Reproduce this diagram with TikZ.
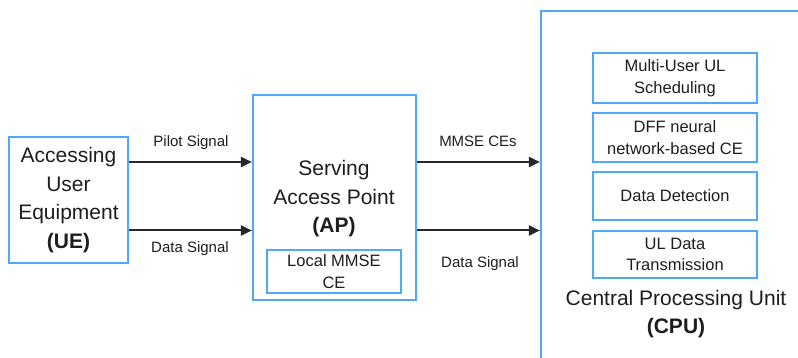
\documentclass[tikz,border=0pt]{standalone}
\usepackage{fontspec}
\setmainfont{Liberation Sans}
\usetikzlibrary{arrows.meta}
\definecolor{boxblue}{RGB}{80,168,250}
\definecolor{txt}{RGB}{30,30,30}
\tikzset{
  bigbox/.style={draw=boxblue, line width=2.2pt, fill=white, inner sep=0pt},
  subbox/.style={draw=boxblue, line width=2pt, fill=white, inner sep=0pt, align=center, text=txt, font=\fontsize{16.5}{21.5}\selectfont},
  bigtxt/.style={align=center, text=txt, font=\fontsize{21}{28.5}\selectfont},
  lbl/.style={text=txt, font=\fontsize{15}{18}\selectfont},
  arr/.style={draw=black!85, line width=2pt, -{Triangle[length=11pt,width=10pt]}}
}
\begin{document}
\begin{tikzpicture}[x=1pt,y=-1pt]
\useasboundingbox (0,0) rectangle (798,358);
\clip (0,0) rectangle (798,358);
\fill[white] (0,0) rectangle (798,358);
% UE
\node[bigbox, bigtxt, minimum width=119pt, minimum height=126pt] (ue) at (68.5,200) {Accessing\\User\\Equipment\\\textbf{(UE)}};
% AP
\node[bigbox, minimum width=163pt, minimum height=205pt] (ap) at (334.5,197.5) {};
\node[bigtxt] (aptxt) at (334,199) {Serving\\Access Point\\\textbf{(AP)}};
\node[subbox, minimum width=134pt, minimum height=43pt] (lmmse) at (334,271.5) {Local MMSE\\CE};
% CPU
\node[bigbox, minimum width=280pt, minimum height=380pt] (cpu) at (681,201) {};
\node[subbox, minimum width=164pt, minimum height=50pt] (sched) at (675,78) {Multi-User UL\\Scheduling};
\node[subbox, minimum width=164pt, minimum height=49pt] (dff) at (675,137.5) {DFF neural\\network-based CE};
\node[subbox, minimum width=164pt, minimum height=48pt] (det) at (675,196) {Data Detection};
\node[subbox, minimum width=164pt, minimum height=47pt] (ult) at (675,254.5) {UL Data\\Transmission};
\node[bigtxt] (cputxt) at (676,314) {Central Processing Unit\\\textbf{(CPU)}};
% arrows
\coordinate (r1) at (0,162);
\coordinate (r2) at (0,230.5);
\draw[arr] (ue.east |- r1) -- (ap.west |- r1);
\draw[arr] (ue.east |- r2) -- (ap.west |- r2);
\draw[arr] (ap.east |- r1) -- (cpu.west |- r1);
\draw[arr] (ap.east |- r2) -- (cpu.west |- r2);
% labels
\node[lbl] (l1) at (191,143) {Pilot Signal};
\node[lbl] (l2) at (190,249) {Data Signal};
\node[lbl] (l3) at (478,141) {MMSE CEs};
\node[lbl] (l4) at (480,264) {Data Signal};
\end{tikzpicture}
\end{document}
